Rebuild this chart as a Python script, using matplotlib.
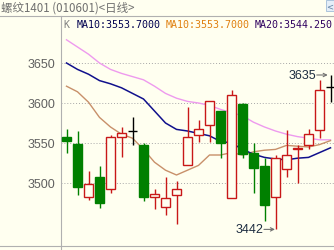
#!/usr/bin/env python3
"""Daily K-line chart for rebar 1401 with moving averages."""

import matplotlib
matplotlib.use("Agg")
import matplotlib.pyplot as plt
from matplotlib.patches import Rectangle
from matplotlib.lines import Line2D

# candle data, one entry per trading day (left to right)
opens = [3557, 3549, 3482, 3507, 3492, 3557, 3565, 3548, 3482, 3470, 3485, 3522, 3560,
         3573, 3590, 3481, 3599, 3538, 3521, 3482, 3518, 3543, 3548, 3566, 3620]
highs = [3567, 3565, 3515, 3521, 3560, 3570, 3583, 3550, 3492, 3507, 3502, 3595, 3579,
         3602, 3590, 3616, 3600, 3550, 3531, 3535, 3566, 3547, 3568, 3629, 3635]
lows = [3537, 3485, 3479, 3469, 3487, 3533, 3547, 3478, 3467, 3460, 3449, 3522, 3551,
        3551, 3531, 3481, 3531, 3488, 3452, 3442, 3508, 3500, 3543, 3556, 3601]
closes = [3552, 3495, 3499, 3475, 3558, 3562, 3565, 3482, 3486, 3481, 3492, 3557, 3567,
          3602, 3550, 3610, 3536, 3519, 3472, 3531, 3535, 3544, 3561, 3616, 3620]

# moving average lines
ma_pink = [3679, 3670, 3661, 3650, 3642, 3637, 3633, 3629, 3621, 3612, 3606, 3602, 3600,
           3597, 3592, 3588, 3584, 3576, 3570, 3565, 3561, 3558, 3556, 3554, 3554]
ma_navy = [3650, 3642, 3636, 3628, 3624, 3619, 3612, 3605, 3590, 3575, 3567, 3565, 3562,
           3559, 3552, 3550, 3542, 3536, 3532, 3530, 3529, 3531, 3532, 3538, 3544]
ma_tan = [3621, 3614, 3601, 3582, 3570, 3561, 3556, 3542, 3526, 3516, 3510, 3516, 3522,
          3535, 3535, 3538, 3535, 3539, 3541, 3542, 3547, 3546, 3545, 3548, 3553]

yticks = [3500, 3550, 3600, 3650]
title = "螺纹1401 (010601)<日线>"
ma_labels = ["MA10:3553.7000", "MA10:3553.7000", "MA20:3544.250"]

W, H = 334, 251
BG = "#FFFFF0"
RED = "#C81818"
GREEN = "#008000"


def px(x, y):
    """pixel position (from top-left) -> figure fraction"""
    return x / W, 1 - y / H


def main():
    fig = plt.figure(figsize=(W / 100, H / 100), dpi=100, facecolor=BG)
    # axes: x 61..334, y 17..247 px
    ax = fig.add_axes([61 / W, (H - 247) / H, (W - 61) / W, 230 / H], facecolor=BG)

    n = len(opens)
    ax.set_xlim(-0.5, (334 - 66.5) / 11)
    ax.set_ylim(3421.25, 3708.75)

    for y in yticks:
        ax.axhline(y, color="#A8A8A8", lw=0.7, ls=(0, (1, 2)), zorder=0)

    ax.plot(range(n), ma_pink, color="#EE9AEE", lw=1.0, zorder=1)
    ax.plot(range(n), ma_tan, color="#C8906A", lw=1.0, zorder=1)
    ax.plot(range(n), ma_navy, color="#10108C", lw=1.1, zorder=1)

    w = 0.77
    for i in range(n):
        o, h, l, c = opens[i], highs[i], lows[i], closes[i]
        if c > o:
            col, face = RED, BG
        elif c < o:
            col, face = GREEN, GREEN
        else:
            col, face = "black", "black"
        ax.vlines(i, l, h, color=col, lw=1.0, zorder=2)
        if c == o:
            ax.hlines(o, i - w / 2, i + w / 2, color=col, lw=1.0, zorder=3)
        else:
            ax.bar(i, abs(c - o), bottom=min(o, c), width=w, color=face,
                   edgecolor=col, lw=1.0, zorder=3)

    # highest / lowest markers
    imax = highs.index(max(highs))
    imin = lows.index(min(lows))
    for idx, val, dx in [(imax, max(highs), -0.25), (imin, min(lows), -0.05)]:
        ax.annotate("", xy=(idx + dx, val), xytext=(-11, 0), textcoords="offset pixels",
                    arrowprops=dict(arrowstyle="->", color="#707070", lw=0.8,
                                    shrinkA=0, shrinkB=0, mutation_scale=6))
        ax.annotate(str(val), xy=(idx + dx, val), xytext=(-12, 0), textcoords="offset pixels",
                    ha="right", va="center", fontsize=9, family="Liberation Sans",
                    color="#1C2C40")

    ax.set_yticks(yticks)
    ax.set_yticklabels([str(t) for t in yticks], family="Liberation Sans", fontsize=9,
                       color="#606060")
    ax.tick_params(axis="y", length=0, pad=4.3)
    ax.set_xticks([])
    for s in ["top", "right", "bottom"]:
        ax.spines[s].set_visible(False)
    ax.spines["left"].set_color("#B0B0B0")
    ax.spines["left"].set_linewidth(0.8)

    # full-width separator lines
    for yy in [17, 247]:
        fig.add_artist(Line2D([0, 1], [1 - yy / H] * 2, color="#B0B0B0", lw=0.8))
    fig.add_artist(Line2D([61 / W] * 2, [0, 1 - 247 / H], color="#B0B0B0", lw=0.8))

    # header texts
    fig.text(*px(1, 8.5), title, ha="left", va="center", fontsize=8.3, color="#707070",
             family=["Noto Sans CJK SC", "DejaVu Sans"])
    fig.text(*px(63, 24.5), "K", ha="left", va="center", fontsize=7.2, color="#808080",
             family="DejaVu Sans Mono")
    for xx, lab, col in zip([77, 166, 255], ma_labels, ["#000050", "#E08010", "#300060"]):
        fig.text(*px(xx, 24.5), lab, ha="left", va="center", fontsize=7.2, color=col,
                 family="DejaVu Sans Mono")

    # small button in the top-right corner
    fig.add_artist(Rectangle(px(326, 12), 8 / W, 11 / H, facecolor="#E4EEF8",
                             edgecolor="#A0BCD8", lw=0.6))
    fig.text(*px(330, 7), "<", ha="center", va="center", fontsize=6, color="#6080A0")

    fig.savefig("out.png", dpi=100, facecolor=BG)


if __name__ == "__main__":
    main()
